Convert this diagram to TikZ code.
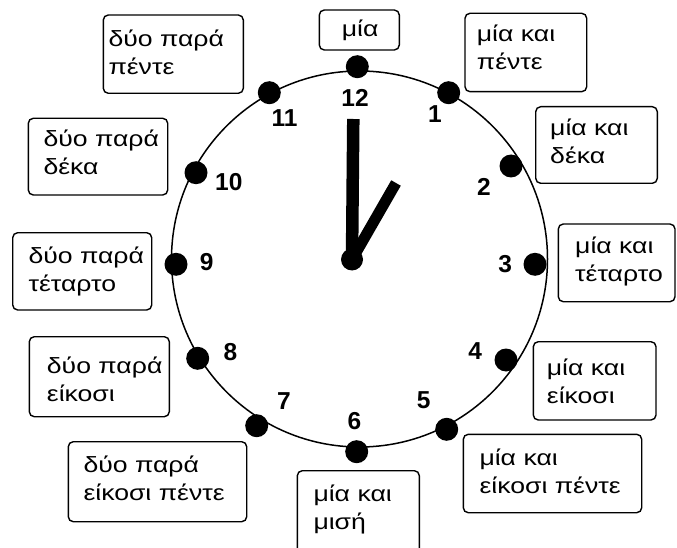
\documentclass[tikz,border=0pt]{standalone}
\usepackage{fontspec}
\setmainfont{Liberation Sans}[FakeStretch=1.21]
\newfontfamily\digitfont{Liberation Sans}
\usetikzlibrary{fit}

\tikzset{
  frame/.style={draw, line width=1.4pt, rounded corners=5pt, inner sep=0pt, outer sep=0pt},
  caption/.style={anchor=north west, inner sep=0pt, align=left,
    font=\fontsize{22}{28}\selectfont},
  rim/.style={draw, circle, line width=1.5pt, inner sep=0pt, minimum size=376pt},
  dot/.style={circle, fill=black, inner sep=0pt, minimum size=23pt},
  numeral/.style={inner sep=0pt, font=\digitfont\bfseries\fontsize{24.5}{24.5}\selectfont},
  hand/.style={line width=#1, line cap=butt}
}
\newcommand{\firstline}{\rule{0pt}{20pt}}

\begin{document}
\begin{tikzpicture}[x=1pt,y=-1pt]
  \clip (0,0) rectangle (677,548);

  % clock face
  \node[rim] (face) at (359.5,259) {};

  % hour dots
  \node[dot] (d12) at (357.3,66.7) {};
  \node[dot] (d1)  at (448.7,92.7) {};
  \node[dot] (d2)  at (511,166) {};
  \node[dot] (d3)  at (535,264.3) {};
  \node[dot] (d4)  at (506,360) {};
  \node[dot] (d5)  at (446.7,429.3) {};
  \node[dot] (d6)  at (356.7,451.7) {};
  \node[dot] (d7)  at (256.7,425.7) {};
  \node[dot] (d8)  at (197.7,358.3) {};
  \node[dot] (d9)  at (176,264.3) {};
  \node[dot] (d10) at (196,172.7) {};
  \node[dot] (d11) at (269.3,92.7) {};

  % numerals
  \node[numeral] (n12) at (355,98.3) {12};
  \node[numeral] (n1)  at (435,114) {1};
  \node[numeral] (n2)  at (484,186.7) {2};
  \node[numeral] (n3)  at (505.3,264) {3};
  \node[numeral] (n4)  at (475.3,351.3) {4};
  \node[numeral] (n5)  at (423.7,399.7) {5};
  \node[numeral] (n6)  at (354.5,420.8) {6};
  \node[numeral] (n7)  at (284,400.8) {7};
  \node[numeral] (n8)  at (230.5,352) {8};
  \node[numeral] (n9)  at (206.7,262.5) {9};
  \node[numeral] (n10) at (228.8,181.7) {10};
  \node[numeral] (n11) at (284.5,118.3) {11};

  % hands
  \coordinate (pivot) at (352,259.5);
  \coordinate (mtip) at (353.3,119);
  \coordinate (htip) at (396,183);
  \draw[hand=12.5pt] (pivot) -- (mtip);
  \draw[hand=11pt] (pivot) -- (htip);
  \node[dot, minimum size=22pt] (hub) at (pivot) {};

  % time captions
  \node[frame, fit={(319.3,10) (399.3,50)}] (b12) {};
  \node[caption] (t12) at (341.7,16.7) {\firstline μία};

  \node[frame, fit={(465,13.3) (586.7,91.7)}] (b1) {};
  \node[caption] (t1) at (476.7,21.7) {\firstline μία και\\πέντε};

  \node[frame, fit={(535.7,106.7) (657.3,183.3)}] (b2) {};
  \node[caption] (t2) at (550,115) {\firstline μία και\\δέκα};

  \node[frame, fit={(558.3,224) (675,301.7)}] (b3) {};
  \node[caption] (t3) at (575,233.3) {\firstline μία και\\τέταρτο};

  \node[frame, fit={(533.3,341.7) (656,420)}] (b4) {};
  \node[caption] (t4) at (546.7,355) {\firstline μία και\\είκοσι};

  \node[frame, fit={(463.3,434.3) (641.7,512.7)}] (b5) {};
  \node[caption] (t5) at (479.3,445) {\firstline μία και\\είκοσι πέντε};

  \node[frame, fit={(297.3,470.7) (419.3,560)}] (b6) {};
  \node[caption] (t6) at (313.3,481.7) {\firstline μία και\\μισή};

  \node[frame, fit={(68.3,441.7) (246.7,521.7)}] (b7) {};
  \node[caption] (t7) at (83.3,452.7) {\firstline δύο παρά\\είκοσι πέντε};

  \node[frame, fit={(29.3,336.7) (169.3,416.7)}] (b8) {};
  \node[caption] (t8) at (46.7,353.3) {\firstline δύο παρά\\είκοσι};

  \node[frame, fit={(12.7,232.7) (151.7,310)}] (b9) {};
  \node[caption] (t9) at (28.3,243.3) {\firstline δύο παρά\\τέταρτο};

  \node[frame, fit={(28.3,118.3) (167.7,195)}] (b10) {};
  \node[caption] (t10) at (43.3,126.7) {\firstline δύο παρά\\δέκα};

  \node[frame, fit={(103.3,15) (243.3,93.3)}] (b11) {};
  \node[caption] (t11) at (108.3,26.7) {\firstline δύο παρά\\πέντε};
\end{tikzpicture}
\end{document}
